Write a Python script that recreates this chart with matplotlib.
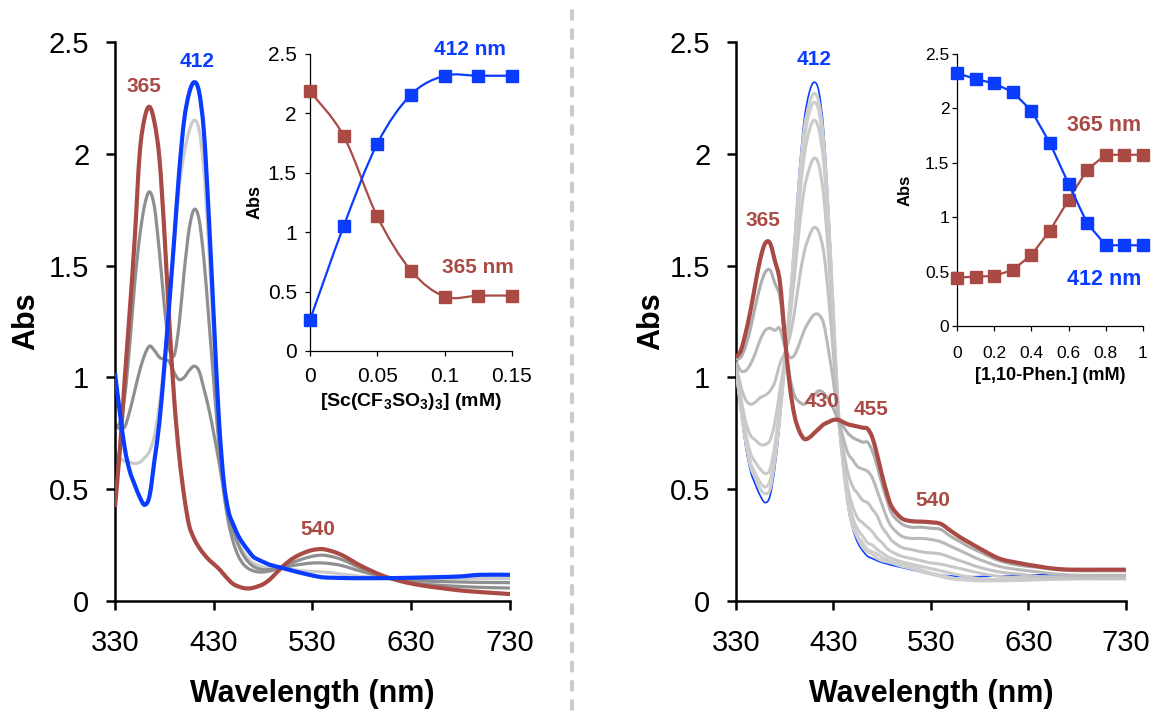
import numpy as np
import matplotlib as mpl
mpl.use('Agg')
import matplotlib.pyplot as plt
from matplotlib.path import Path
from matplotlib.patches import PathPatch
from matplotlib.lines import Line2D
from matplotlib.ticker import FormatStrFormatter

plt.rcParams['font.family'] = ['Liberation Sans', 'DejaVu Sans']
plt.rcParams['mathtext.default'] = 'regular'

RED = '#a94a45'
BLUE = '#0a3cff'
DGRAY = '#8f8f8f'
LGRAY = '#cbcbcb'

# wavelength grid (nm) shared by all spectra
wl = [330, 335, 340, 345, 350, 355, 360, 365, 370, 375, 380, 385, 390, 395, 400, 405,
      410, 415, 420, 425, 430, 435, 440, 445, 450, 455, 460, 465, 470, 475, 480, 485,
      490, 500, 510, 520, 530, 540, 550, 560, 570, 580, 600, 620, 640, 660, 680, 700, 730]

# ---- left panel: Sc(CF3SO3)3 titration spectra ----
sc_red = [0.42, 0.68, 1.00, 1.30, 1.62, 2.00, 2.16, 2.21, 2.14, 1.98, 1.65, 1.25, 0.90, 0.65, 0.47, 0.34,
          0.28, 0.24, 0.21, 0.185, 0.165, 0.145, 0.12, 0.095, 0.075, 0.065, 0.058, 0.056, 0.059, 0.066, 0.075, 0.09,
          0.11, 0.155, 0.19, 0.213, 0.228, 0.232, 0.222, 0.205, 0.18, 0.155, 0.115, 0.088, 0.07, 0.058, 0.047, 0.04, 0.031]
sc_dgray1 = [0.78, 0.80, 0.92, 1.15, 1.42, 1.63, 1.77, 1.83, 1.76, 1.56, 1.32, 1.13, 1.10, 1.24, 1.47, 1.66,
             1.75, 1.71, 1.53, 1.26, 0.98, 0.71, 0.49, 0.35, 0.26, 0.20, 0.165, 0.145, 0.135, 0.13, 0.13, 0.133,
             0.138, 0.155, 0.172, 0.188, 0.20, 0.205, 0.198, 0.185, 0.165, 0.145, 0.112, 0.09, 0.077, 0.07, 0.065, 0.061, 0.058]
sc_dgray2 = [0.79, 0.77, 0.78, 0.85, 0.94, 1.03, 1.10, 1.14, 1.12, 1.09, 1.08, 1.07, 1.02, 0.99, 1.00, 1.03,
             1.05, 1.03, 0.95, 0.86, 0.75, 0.63, 0.50, 0.40, 0.31, 0.25, 0.205, 0.175, 0.155, 0.145, 0.14, 0.14,
             0.142, 0.15, 0.158, 0.165, 0.17, 0.17, 0.166, 0.158, 0.145, 0.132, 0.11, 0.097, 0.09, 0.087, 0.085, 0.083, 0.082]
sc_lgray = [0.67, 0.64, 0.625, 0.62, 0.615, 0.62, 0.64, 0.67, 0.74, 0.88, 1.07, 1.33, 1.60, 1.85, 2.00, 2.10,
            2.15, 2.11, 1.93, 1.58, 1.17, 0.80, 0.53, 0.38, 0.31, 0.26, 0.22, 0.19, 0.17, 0.16, 0.152, 0.148,
            0.146, 0.145, 0.14, 0.135, 0.132, 0.13, 0.126, 0.12, 0.115, 0.11, 0.105, 0.102, 0.101, 0.10, 0.10, 0.10, 0.10]
sc_blue = [1.02, 0.84, 0.68, 0.58, 0.52, 0.465, 0.43, 0.47, 0.63, 0.80, 1.05, 1.33, 1.62, 1.92, 2.15, 2.27,
           2.32, 2.28, 2.10, 1.72, 1.27, 0.83, 0.54, 0.40, 0.34, 0.29, 0.255, 0.225, 0.198, 0.185, 0.175, 0.165,
           0.158, 0.147, 0.135, 0.124, 0.114, 0.106, 0.104, 0.103, 0.102, 0.102, 0.102, 0.103, 0.105, 0.107, 0.11, 0.117, 0.117]

sc_conc = [0, 0.025, 0.05, 0.075, 0.1, 0.125, 0.15]
sc_412 = [0.26, 1.05, 1.745, 2.157, 2.317, 2.317, 2.317]
sc_365 = [2.185, 1.81, 1.132, 0.677, 0.458, 0.466, 0.466]

# ---- right panel: 1,10-phenanthroline titration spectra ----
ph_blue = [1.035, 0.85, 0.69, 0.58, 0.52, 0.47, 0.44, 0.47, 0.60, 0.80, 1.05, 1.33, 1.62, 1.92, 2.15, 2.27,
           2.32, 2.28, 2.10, 1.75, 1.30, 0.85, 0.60, 0.42, 0.32, 0.26, 0.225, 0.20, 0.19, 0.18, 0.172, 0.166,
           0.16, 0.15, 0.14, 0.13, 0.122, 0.116, 0.112, 0.11, 0.109, 0.109, 0.112, 0.114, 0.117, 0.117, 0.117, 0.117, 0.117]
ph_gray = [
    [1.04, 0.86, 0.71, 0.60, 0.55, 0.50, 0.48, 0.50, 0.63, 0.82, 1.05, 1.32, 1.60, 1.89, 2.11, 2.22,
     2.27, 2.23, 2.06, 1.72, 1.29, 0.85, 0.61, 0.43, 0.33, 0.28, 0.24, 0.22, 0.21, 0.19, 0.18, 0.175,
     0.17, 0.155, 0.145, 0.13, 0.12, 0.11, 0.10, 0.095, 0.092, 0.09, 0.09, 0.092, 0.095, 0.097, 0.10, 0.10, 0.10],
    [1.04, 0.87, 0.72, 0.62, 0.57, 0.53, 0.51, 0.54, 0.66, 0.84, 1.06, 1.31, 1.57, 1.85, 2.06, 2.18,
     2.23, 2.19, 2.02, 1.69, 1.27, 0.85, 0.61, 0.44, 0.35, 0.29, 0.26, 0.23, 0.22, 0.21, 0.195, 0.185,
     0.175, 0.165, 0.155, 0.14, 0.125, 0.115, 0.105, 0.098, 0.095, 0.093, 0.092, 0.093, 0.096, 0.098, 0.10, 0.10, 0.10],
    [1.04, 0.88, 0.75, 0.66, 0.62, 0.59, 0.57, 0.59, 0.70, 0.87, 1.07, 1.29, 1.53, 1.79, 1.99, 2.10,
     2.15, 2.11, 1.96, 1.65, 1.25, 0.85, 0.62, 0.46, 0.37, 0.32, 0.29, 0.26, 0.25, 0.23, 0.215, 0.20,
     0.19, 0.175, 0.165, 0.155, 0.145, 0.135, 0.125, 0.115, 0.107, 0.10, 0.095, 0.095, 0.097, 0.10, 0.10, 0.10, 0.10],
    [1.05, 0.91, 0.80, 0.74, 0.72, 0.70, 0.70, 0.72, 0.80, 0.94, 1.08, 1.25, 1.45, 1.67, 1.84, 1.93,
     1.98, 1.95, 1.81, 1.54, 1.19, 0.84, 0.64, 0.50, 0.42, 0.37, 0.35, 0.33, 0.31, 0.28, 0.26, 0.235,
     0.22, 0.20, 0.19, 0.18, 0.17, 0.165, 0.155, 0.145, 0.135, 0.125, 0.11, 0.105, 0.10, 0.10, 0.10, 0.10, 0.10],
    [1.06, 0.96, 0.90, 0.88, 0.89, 0.91, 0.92, 0.94, 0.98, 1.06, 1.11, 1.18, 1.29, 1.44, 1.56, 1.63,
     1.67, 1.65, 1.56, 1.36, 1.10, 0.83, 0.68, 0.57, 0.51, 0.48, 0.45, 0.44, 0.41, 0.38, 0.33, 0.30,
     0.27, 0.24, 0.23, 0.22, 0.215, 0.21, 0.195, 0.18, 0.165, 0.15, 0.13, 0.12, 0.11, 0.107, 0.105, 0.105, 0.105],
    [1.07, 1.03, 1.03, 1.06, 1.11, 1.17, 1.21, 1.22, 1.21, 1.22, 1.14, 1.09, 1.10, 1.15, 1.21, 1.25,
     1.28, 1.28, 1.24, 1.12, 0.98, 0.82, 0.73, 0.66, 0.63, 0.60, 0.59, 0.58, 0.55, 0.49, 0.43, 0.37,
     0.33, 0.29, 0.28, 0.28, 0.275, 0.265, 0.245, 0.225, 0.205, 0.185, 0.155, 0.14, 0.13, 0.12, 0.115, 0.115, 0.115],
    [1.08, 1.09, 1.14, 1.22, 1.32, 1.41, 1.47, 1.48, 1.42, 1.36, 1.18, 1.01, 0.92, 0.89, 0.88, 0.90,
     0.92, 0.94, 0.93, 0.90, 0.86, 0.81, 0.78, 0.75, 0.73, 0.72, 0.71, 0.71, 0.67, 0.60, 0.52, 0.45,
     0.39, 0.345, 0.33, 0.33, 0.325, 0.32, 0.29, 0.265, 0.24, 0.22, 0.18, 0.16, 0.15, 0.14, 0.135, 0.135, 0.135],
]
ph_gray_colors = ['#cecece', '#cecece', '#cbcbcb', '#c8c8c8', '#c2c2c2', '#b9b9b9', '#aeaeae']
ph_red = [1.09, 1.12, 1.20, 1.30, 1.42, 1.53, 1.60, 1.60, 1.52, 1.43, 1.19, 0.97, 0.83, 0.76, 0.725, 0.73,
          0.75, 0.77, 0.79, 0.80, 0.81, 0.81, 0.80, 0.79, 0.785, 0.78, 0.775, 0.77, 0.73, 0.65, 0.56, 0.48,
          0.42, 0.37, 0.357, 0.355, 0.352, 0.345, 0.315, 0.285, 0.26, 0.235, 0.19, 0.17, 0.155, 0.143, 0.14, 0.14, 0.14]

ph_conc = [0, 0.1, 0.2, 0.3, 0.4, 0.5, 0.6, 0.7, 0.8, 0.9, 1.0]
ph_412 = [2.325, 2.27, 2.23, 2.15, 1.98, 1.68, 1.307, 0.945, 0.742, 0.742, 0.742]
ph_365 = [0.445, 0.454, 0.46, 0.515, 0.653, 0.877, 1.16, 1.436, 1.574, 1.574, 1.574]


def smooth_line(ax, x, y, color, lw, z=2):
    # excel-like smoothed connector (catmull-rom through the data points)
    pts = np.column_stack([x, y]).astype(float)
    n = len(pts)
    verts = [pts[0]]
    codes = [Path.MOVETO]
    for i in range(n - 1):
        p0 = pts[max(i - 1, 0)]
        p1 = pts[i]
        p2 = pts[i + 1]
        p3 = pts[min(i + 2, n - 1)]
        verts += [p1 + (p2 - p0) / 6.0, p2 - (p3 - p1) / 6.0, p2]
        codes += [Path.CURVE4] * 3
    ax.add_patch(PathPatch(Path(verts, codes), fc='none', ec=color, lw=lw,
                           zorder=z, joinstyle='round', capstyle='butt'))


def style_main(ax, ylab_x):
    ax.set_xlim(330, 730)
    ax.set_ylim(0, 2.5)
    ax.set_xticks([330, 430, 530, 630, 730])
    ax.set_yticks([0, 0.5, 1, 1.5, 2, 2.5])
    ax.yaxis.set_major_formatter(FormatStrFormatter('%g'))
    for s in ['top', 'right']:
        ax.spines[s].set_visible(False)
    for s in ['left', 'bottom']:
        ax.spines[s].set_linewidth(1.8)
    ax.tick_params(direction='out', length=6.5, width=1.8, labelsize=21)
    ax.tick_params(axis='y', pad=12)
    ax.tick_params(axis='x', pad=14)
    ax.set_xlabel('Wavelength (nm)', fontsize=22, fontweight='bold')
    ax.set_ylabel('Abs', fontsize=22, fontweight='bold')
    ax.xaxis.set_label_coords(0.5, -0.14)
    ax.yaxis.set_label_coords(ylab_x, 0.5)
    ax.set_facecolor('none')


def style_inset(ax, xmax, xticks, tsize, lsize, xlab, ylab_x, ypad, xpad):
    ax.set_xlim(0, xmax)
    ax.set_ylim(0, 2.5)
    ax.set_xticks(xticks)
    ax.set_yticks([0, 0.5, 1, 1.5, 2, 2.5])
    ax.xaxis.set_major_formatter(FormatStrFormatter('%g'))
    ax.yaxis.set_major_formatter(FormatStrFormatter('%g'))
    for s in ['top', 'right']:
        ax.spines[s].set_visible(False)
    for s in ['left', 'bottom']:
        ax.spines[s].set_linewidth(0.9)
    ax.tick_params(direction='out', length=3.5, width=0.9, labelsize=tsize)
    ax.tick_params(axis='y', pad=ypad)
    ax.tick_params(axis='x', pad=xpad)
    ax.set_xlabel(xlab, fontsize=lsize, fontweight='bold')
    ax.set_ylabel('Abs', fontsize=lsize - 1, fontweight='bold')
    ax.yaxis.set_label_coords(ylab_x, 0.5)
    ax.set_facecolor('none')


fig = plt.figure(figsize=(11.51, 7.17), dpi=100)

# ---------------- left panel ----------------
ax1 = fig.add_axes([0.0999, 0.1618, 0.3432, 0.7796])
smooth_line(ax1, wl, sc_lgray, LGRAY, 2.3, 2)
smooth_line(ax1, wl, sc_dgray2, DGRAY, 2.3, 2)
smooth_line(ax1, wl, sc_dgray1, DGRAY, 2.3, 2)
smooth_line(ax1, wl, sc_red, RED, 3.0, 3)
smooth_line(ax1, wl, sc_blue, BLUE, 3.0, 4)
style_main(ax1, -0.187)
ax1.text(359.4, 2.30, '365', color=RED, fontsize=15, fontweight='bold', ha='center', va='center')
ax1.text(413, 2.415, '412', color=BLUE, fontsize=15, fontweight='bold', ha='center', va='center')
ax1.text(535, 0.32, '540', color=RED, fontsize=15, fontweight='bold', ha='center', va='center')

in1 = fig.add_axes([0.2693, 0.5105, 0.1755, 0.4142])
smooth_line(in1, sc_conc, sc_365, RED, 1.6)
smooth_line(in1, sc_conc, sc_412, BLUE, 1.6)
in1.plot(sc_conc, sc_365, 's', color=RED, ms=9, zorder=3, clip_on=False)
in1.plot(sc_conc, sc_412, 's', color=BLUE, ms=9, zorder=4, clip_on=False)
style_inset(in1, 0.15, [0, 0.05, 0.1, 0.15], 15, 14,
            '[Sc(CF$_3$SO$_3$)$_3$] (mM)', -0.23, 6, 8)
in1.text(0.119, 2.54, '412 nm', color=BLUE, fontsize=15, fontweight='bold', ha='center', va='center')
in1.text(0.125, 0.70, '365 nm', color=RED, fontsize=15, fontweight='bold', ha='center', va='center')

# ---------------- right panel ----------------
ax2 = fig.add_axes([0.6394, 0.1618, 0.3388, 0.7796])
smooth_line(ax2, wl, ph_blue, BLUE, 1.2, 2)
for spec, c in zip(ph_gray, ph_gray_colors):
    smooth_line(ax2, wl, spec, c, 2.2, 3)
smooth_line(ax2, wl, ph_red, RED, 3.0, 4)
style_main(ax2, -0.18)
ax2.text(409.8, 2.42, '412', color=BLUE, fontsize=15, fontweight='bold', ha='center', va='center')
ax2.text(357.3, 1.70, '365', color=RED, fontsize=15, fontweight='bold', ha='center', va='center')
ax2.text(418.5, 0.893, '430', color=RED, fontsize=15, fontweight='bold', ha='center', va='center')
ax2.text(468.1, 0.856, '455', color=RED, fontsize=15, fontweight='bold', ha='center', va='center')
ax2.text(532.4, 0.449, '540', color=RED, fontsize=15, fontweight='bold', ha='center', va='center')

in2 = fig.add_axes([0.8314, 0.5453, 0.1616, 0.3794])
in2.plot(ph_conc, ph_412, '-s', color=BLUE, lw=1.6, ms=9, zorder=4, clip_on=False)
in2.plot(ph_conc, ph_365, '-s', color=RED, lw=1.6, ms=9, zorder=3, clip_on=False)
style_inset(in2, 1.0, [0, 0.2, 0.4, 0.6, 0.8, 1.0], 12.5, 13,
            '[1,10-Phen.] (mM)', -0.24, 2, 11)
in2.text(0.79, 1.84, '365 nm', color=RED, fontsize=15.5, fontweight='bold', ha='center', va='center')
in2.text(0.79, 0.43, '412 nm', color=BLUE, fontsize=15.5, fontweight='bold', ha='center', va='center')

# dashed divider between the two panels
fig.add_artist(Line2D([0.497, 0.497], [0.985, 0.0], transform=fig.transFigure,
                      color='#cbcbcb', lw=3.0, dashes=(1.9, 2.7), dash_capstyle='round'))

fig.savefig('out.png', dpi=100)
